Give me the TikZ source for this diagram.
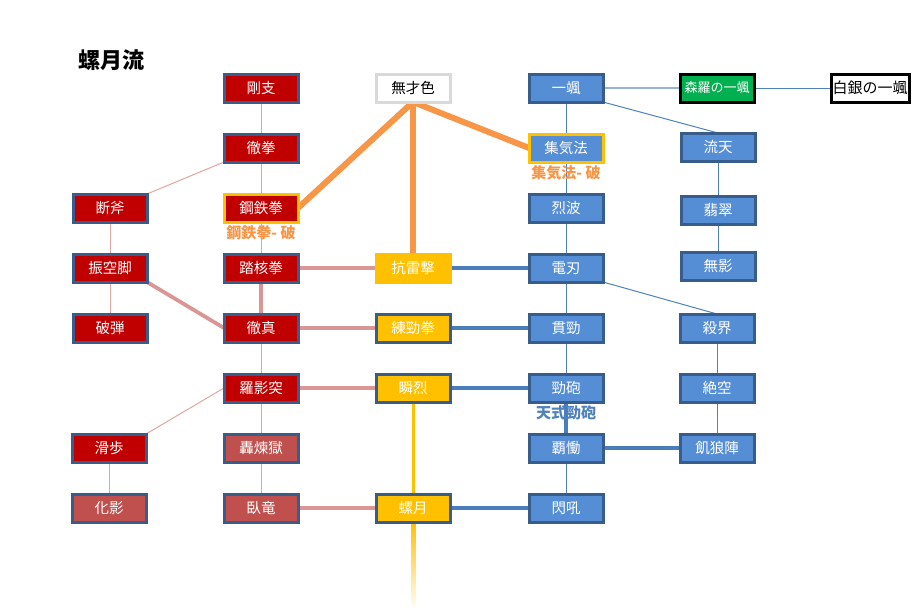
\documentclass[tikz,border=0pt]{standalone}
\usepackage{fontspec}
\setmainfont{Noto Sans CJK JP}
\usetikzlibrary{calc}
\pgfdeclarelayer{bg}
\pgfsetlayers{bg,main}
\definecolor{dred}{HTML}{C00000}
\definecolor{lred}{HTML}{C0504D}
\definecolor{bord}{HTML}{385D8A}
\definecolor{ygold}{HTML}{FFC000}
\definecolor{bfill}{HTML}{558ED5}
\definecolor{orng}{HTML}{F79646}
\definecolor{pinkl}{HTML}{D99694}
\definecolor{bluel}{HTML}{4F81BD}
\definecolor{bluet}{HTML}{4A7EBB}
\definecolor{grn}{HTML}{00B050}
\definecolor{lgray}{HTML}{D9D9D9}
\tikzset{
  box/.style={draw=bord, line width=3pt, minimum width=74pt, minimum height=28pt, inner sep=0pt, outer sep=0pt, text=white, font=\fontsize{14.5}{17}\selectfont},
  rbox/.style={box, fill=dred},
  lrbox/.style={box, fill=lred},
  ybox/.style={box, fill=ygold},
  bbox/.style={box, fill=bfill},
  thinp/.style={draw=pinkl!85, line width=1pt},
  thickp/.style={draw=pinkl, line width=3.8pt},
  thinb/.style={draw=bluel, line width=1pt},
  thickb/.style={draw=bluet, line width=3.5pt},
  orl/.style={draw=orng, line width=6pt},
  lab/.style={font=\fontsize{15}{18}\selectfont\bfseries}
}
\begin{document}
\begin{tikzpicture}[x=1pt,y=-1pt]
\useasboundingbox (0,0) rectangle (919,613);
\node[font=\fontsize{22}{26}\selectfont\bfseries] (title) at (111,60) {螺月流};
% column 1
\node[rbox] (danpu) at (110,208) {断斧};
\node[rbox] (shinku) at (110,268) {振空脚};
\node[rbox] (hadan) at (110,328) {破弾};
\node[rbox] (kappo) at (109,448) {滑歩};
\node[lrbox] (kaei) at (109,508) {化影};
% column 2
\node[rbox] (goshi) at (261,88) {剛支};
\node[rbox] (tekken) at (261,148) {徹拳};
\node[rbox, draw=ygold] (kotetsu) at (261,208) {鋼鉄拳};
\node[rbox] (tokaku) at (261,268) {踏核拳};
\node[rbox] (tesshin) at (261,328) {徹真};
\node[rbox] (raei) at (261,388) {羅影突};
\node[lrbox] (gorengoku) at (261,448) {轟煉獄};
\node[lrbox] (garyu) at (261,508) {臥竜};
% column 3
\node[box, fill=white, draw=lgray, text=black] (musai) at (413,88) {無才色};
\node[ybox, draw=ygold] (korai) at (413,268) {抗雷撃};
\node[ybox] (renkei) at (413,328) {練勁拳};
\node[ybox] (shunretsu) at (413,388) {瞬烈};
\node[ybox] (ragetsu) at (413,508) {螺月};
% column 4
\node[bbox] (issatsu) at (566,88) {一颯};
\node[bbox, draw=ygold] (shukiho) at (566,148) {集気法};
\node[bbox] (reppa) at (566,208) {烈波};
\node[bbox] (denjin) at (566,268) {電刃};
\node[bbox] (kankei) at (566,328) {貫勁};
\node[bbox] (keiho) at (566,388) {勁砲};
\node[bbox] (hado) at (566,448) {覇慟};
\node[bbox] (senko) at (566,508) {閃吼};
% column 5
\node[box, fill=grn, draw=black, font=\fontsize{13}{16}\selectfont] (shinra) at (717,88) {森羅の一颯};
\node[bbox] (ryuten) at (718,147) {流天};
\node[bbox] (hisui) at (718,210) {翡翠};
\node[bbox] (muei) at (718,266) {無影};
\node[bbox] (sakkai) at (717,328) {殺界};
\node[bbox] (zekku) at (717,388) {絶空};
\node[bbox] (kiroujin) at (717,448) {飢狼陣};
\node[box, fill=white, draw=black, text=black, minimum width=78pt, font=\fontsize{15}{18}\selectfont] (hakugin) at (870,88) {白銀の一颯};
\coordinate (tail) at (414,610);
\begin{pgfonlayer}{bg}
\fill[white] (0,0) rectangle (919,613);
% pink thin
\path[thinp] (goshi) -- (tekken);
\path[thinp] (tekken) -- (kotetsu);
\path[thinp] (kotetsu) -- (tokaku);
\path[thinp] (tesshin) -- (raei);
\path[thinp] (raei) -- (gorengoku);
\path[thinp] (gorengoku) -- (garyu);
\path[thinp] (danpu) -- (shinku);
\path[thinp] (shinku) -- (hadan);
\path[thinp] (kappo) -- (kaei);
\path[thinp] (tekken.south west) -- (danpu.north east);
\path[thinp] (raei.west) -- (kappo.north east);
% pink thick
\path[thickp] (tokaku) -- (tesshin);
\path[thickp] (shinku.south east) -- (tesshin.west);
\path[thickp] (tokaku) -- (korai);
\path[thickp] (tesshin) -- (renkei);
\path[thickp] (raei) -- (shunretsu);
\path[thickp] (garyu) -- (ragetsu);
% orange
\path[orl] (musai.south) -- (kotetsu.east);
\path[orl] (musai.south) -- (shukiho.west);
\path[orl] (musai.south) -- (korai.north);
% yellow
\path[draw=ygold, line width=3pt] (shunretsu) -- (ragetsu);
\shade[top color=ygold, bottom color=white] ($(ragetsu.south)+(-1.5,0)$) rectangle ($(tail)+(1.5,0)$);
% blue thin
\path[thinb] (issatsu) -- (shukiho);
\path[thinb] (shukiho) -- (reppa);
\path[thinb] (reppa) -- (denjin);
\path[thinb] (denjin) -- (kankei);
\path[thinb] (kankei) -- (keiho);
\path[thinb] (hado) -- (senko);
\path[thinb] (ryuten) -- (hisui);
\path[thinb] (hisui) -- (muei);
\path[thinb] (sakkai) -- (zekku);
\path[thinb] (zekku) -- (kiroujin);
\path[thinb] (issatsu.south east) -- (ryuten.north);
\path[thinb] (denjin.south east) -- (sakkai.north);
\path[draw=bluel!60, line width=1.3pt] (issatsu) -- (shinra);
\path[thinb] (shinra) -- (hakugin);
% blue thick
\path[thickb] (keiho) -- (hado);
\path[thickb] (hado) -- (kiroujin);
\path[thickb] (korai) -- (denjin);
\path[thickb] (renkei) -- (kankei);
\path[thickb] (shunretsu) -- (keiho);
\path[thickb] (ragetsu) -- (senko);
\end{pgfonlayer}
% labels
\node[lab, text=orng] (l1) at (261,233) {鋼鉄拳- 破};
\node[lab, text=orng] (l2) at (566,173) {集気法- 破};
\node[lab, text=bluel] (l3) at (566,413) {天式勁砲};
\end{tikzpicture}
\end{document}
